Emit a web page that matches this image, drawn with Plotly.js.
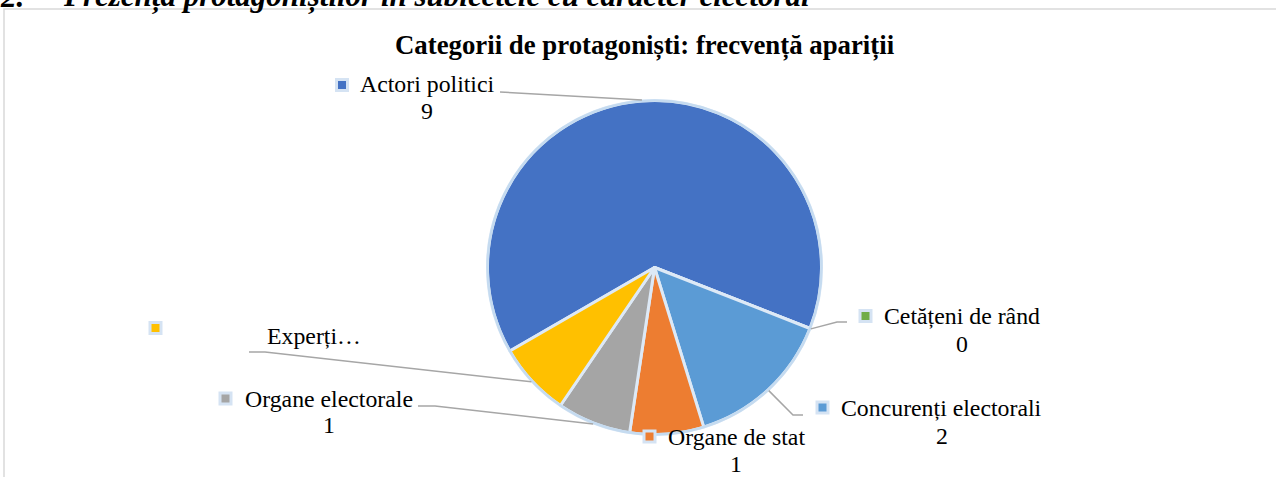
<!DOCTYPE html>
<html>
<head>
<meta charset="utf-8">
<script src="https://cdn.plot.ly/plotly-3.0.1.min.js"></script>
<style>
  html, body { margin: 0; padding: 0; background: #fff; }
  #chart { width: 1276px; height: 477px; }
</style>
</head>
<body>
<div id="chart"></div>
<script>
// date
const categories = ['Actori politici', 'Cetățeni de rând', 'Concurenți electorali', 'Organe de stat', 'Organe electorale', 'Experți'];
const values = [9, 0, 2, 1, 1, 1];
const labelTexts = ['Actori politici', 'Cetățeni de rând', 'Concurenți electorali', 'Organe de stat', 'Organe electorale', 'Experți…'];
const showValue = [true, true, true, true, true, false];
const chartTitle = 'Categorii de protagoniști: frecvență apariții';
const headerNum = '2.';
const headerText = 'Prezența protagoniștilor în subiectele cu caracter electoral';

const colors = ['#4472C4', '#70AD47', '#5B9BD5', '#ED7D31', '#A5A5A5', '#FFC000'];
const serif = '"Liberation Serif", "Times New Roman", serif';

const W = 1276, H = 477;
const px = x => x / W;
const py = y => 1 - y / H;

// pie placement (pixels)
const cx = 654.5, cy = 267.5, R = 167;
const rotation = 240;

// label layout: name centre, value centre, legend key centre, leader polyline start
const labelPos = [
  { name: [428, 84], value: [427, 111], key: [342, 85], leader: [[500, 92]] },
  { name: [962, 315.5], value: [962, 344], key: [865.5, 316], leader: [[847, 322], [837, 322]] },
  { name: [941, 408], value: [941.5, 436], key: [822.5, 407.5], leader: [[803, 415], [793, 415]] },
  { name: [736, 437], value: [735.5, 464], key: [649.5, 436.5], leader: null },
  { name: [329, 399], value: [329, 425], key: [225.5, 398.5], leader: [[418, 406], [435, 406]] },
  { name: [314, 336], value: null, key: [155.5, 328], leader: [[249, 352], [265, 352]] }
];

const total = values.reduce((a, b) => a + b, 0);
let ang = rotation;
const midAngles = values.map(v => {
  const m = ang + v / total * 180;
  ang += v / total * 360;
  return m * Math.PI / 180;
});

const annotations = [];
const shapes = [];

// chart frame
shapes.push({
  type: 'rect', xref: 'paper', yref: 'paper',
  x0: px(4), x1: 1.02, y0: -0.02, y1: py(9),
  line: { color: '#D9D9D9', width: 1.5 }, fillcolor: 'rgba(0,0,0,0)'
});

// outer edge of pie
shapes.push({
  type: 'circle', xref: 'paper', yref: 'paper',
  x0: px(cx - R), x1: px(cx + R), y0: py(cy + R), y1: py(cy - R),
  line: { color: '#C5DBF0', width: 2.5 }, layer: 'above'
});

categories.forEach((c, i) => {
  const p = labelPos[i];
  annotations.push({
    xref: 'paper', yref: 'paper', x: px(p.name[0]), y: py(p.name[1]),
    xanchor: 'center', yanchor: 'middle', showarrow: false, borderpad: 0,
    text: labelTexts[i], font: { family: serif, size: 23.8, color: '#000' }
  });
  if (showValue[i] && p.value) {
    annotations.push({
      xref: 'paper', yref: 'paper', x: px(p.value[0]), y: py(p.value[1]),
      xanchor: 'center', yanchor: 'middle', showarrow: false, borderpad: 0,
      text: String(values[i]), font: { family: serif, size: 23.8, color: '#000' }
    });
  }
  // legend key
  const k = p.key;
  shapes.push({
    type: 'rect', xref: 'paper', yref: 'paper',
    x0: px(k[0] - 7), x1: px(k[0] + 7), y0: py(k[1] + 7), y1: py(k[1] - 7),
    line: { width: 0 }, fillcolor: '#D5E3F3'
  });
  shapes.push({
    type: 'rect', xref: 'paper', yref: 'paper',
    x0: px(k[0] - 4), x1: px(k[0] + 4), y0: py(k[1] + 4), y1: py(k[1] - 4),
    line: { width: 0 }, fillcolor: colors[i]
  });
  // leader line to slice edge
  if (p.leader) {
    const ex = cx + (R + 1) * Math.sin(midAngles[i]);
    const ey = cy - (R + 1) * Math.cos(midAngles[i]);
    const pts = p.leader.concat([[ex, ey]]);
    const path = pts.map((q, j) => (j ? 'L' : 'M') + px(q[0]).toFixed(5) + ',' + py(q[1]).toFixed(5)).join(' ');
    shapes.push({
      type: 'path', xref: 'paper', yref: 'paper', path: path,
      line: { color: '#A6A6A6', width: 1.5 }
    });
  }
});

// titles
annotations.push({
  xref: 'paper', yref: 'paper', x: px(644.5), y: py(45.5),
  xanchor: 'center', yanchor: 'middle', showarrow: false, borderpad: 0,
  text: '<b>' + chartTitle + '</b>', font: { family: serif, size: 26.8, color: '#000' }
});
annotations.push({
  xref: 'paper', yref: 'paper', x: px(-1), y: py(-4),
  xanchor: 'left', yanchor: 'middle', showarrow: false, borderpad: 0,
  text: '<b><i>' + headerNum + '</i></b>', font: { family: serif, size: 31, color: '#000' }
});
annotations.push({
  xref: 'paper', yref: 'paper', x: px(62), y: py(-4),
  xanchor: 'left', yanchor: 'middle', showarrow: false, borderpad: 0,
  text: '<b><i>' + headerText + '</i></b>', font: { family: serif, size: 31, color: '#000' }
});

const trace = {
  type: 'pie',
  labels: categories,
  values: values,
  sort: false,
  direction: 'clockwise',
  rotation: rotation,
  textinfo: 'none',
  hoverinfo: 'label+value',
  marker: { colors: colors, line: { color: '#DDE9F6', width: 3 } },
  domain: { x: [px(cx - R), px(cx + R)], y: [py(cy + R), py(cy - R)] }
};

const layout = {
  width: W, height: H,
  margin: { l: 0, r: 0, t: 0, b: 0 },
  paper_bgcolor: '#fff',
  showlegend: false,
  annotations: annotations,
  shapes: shapes
};

Plotly.newPlot('chart', [trace], layout, { displayModeBar: false, staticPlot: true });
</script>
</body>
</html>
